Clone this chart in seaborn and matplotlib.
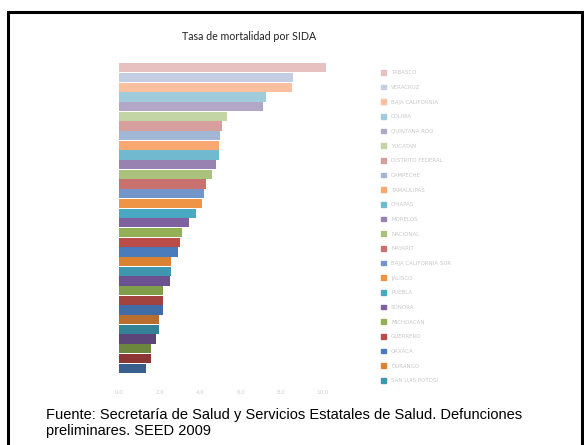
import matplotlib
matplotlib.use("Agg")
import matplotlib.pyplot as plt
import seaborn as sns
import pandas as pd
from matplotlib.lines import Line2D

estados = ["TABASCO", "VERACRUZ", "BAJA CALIFORNIA", "COLIMA", "QUINTANA ROO",
           "YUCATÁN", "DISTRITO FEDERAL", "CAMPECHE", "TAMAULIPAS", "CHIAPAS",
           "MORELOS", "NACIONAL", "NAYARIT", "BAJA CALIFORNIA SUR", "JALISCO",
           "PUEBLA", "SONORA", "MICHOACÁN", "GUERRERO", "OAXACA", "DURANGO",
           "SAN LUIS POTOSÍ", "CHIHUAHUA", "MÉXICO", "HIDALGO", "SINALOA",
           "COAHUILA", "QUERÉTARO", "TLAXCALA", "GUANAJUATO", "AGUASCALIENTES",
           "ZACATECAS"]
tasas = [10.2, 8.59, 8.54, 7.24, 7.09, 5.32, 5.06, 4.97, 4.94, 4.91,
         4.77, 4.56, 4.28, 4.19, 4.09, 3.81, 3.43, 3.08, 3.02, 2.92,
         2.58, 2.58, 2.53, 2.17, 2.17, 2.17, 1.97, 1.95, 1.80, 1.56,
         1.56, 1.31]
ticks_x = [0, 2, 4, 6, 8, 10]
tick_labels = ["0.0", "2.0", "4.0", "6.0", "8.0", "10.0"]
titulo = "Tasa de mortalidad por SIDA"
fuente = "Fuente: Secretaría de Salud y Servicios Estatales de Salud. Defunciones\npreliminares. SEED 2009"

colores = ["#E6C1C0", "#C3CEE3", "#F9BF9E", "#A0CBDB", "#B3A7C8", "#C3D5A4",
           "#D69F9E", "#A2B6D6", "#F8A870", "#70B9CF", "#9782B2", "#ABC27C",
           "#C9716F", "#7295CA", "#EF9345", "#4BA8C2", "#7E619E", "#93B055",
           "#BA4C49", "#4A7CBC", "#D98232", "#3E97AF", "#6C5190", "#809E4A",
           "#A3433F", "#3F6CA6", "#B96D2E", "#338197", "#5C4679", "#6C873D",
           "#8C3735", "#3A5F8E"]

df = pd.DataFrame({"estado": estados, "tasa": tasas})

sns.set_style("white")
plt.rcParams["font.family"] = ["DejaVu Sans"]

fig = plt.figure(figsize=(5.84, 4.45), dpi=100)
W, H = 584, 445
left, right, top, bottom = 119, 333, 63, 373
ax = fig.add_axes([left / W, 1 - bottom / H, (right - left) / W, (bottom - top) / H])

sns.barplot(data=df, x="tasa", y="estado", hue="estado", palette=colores,
            dodge=False, legend=False, ax=ax, width=0.96, edgecolor="none",
            saturation=1)

ax.set_xlim(0, (right - left) / 20.3)
ax.set_xticks(ticks_x)
ax.set_xticklabels(tick_labels, fontsize=4, color="#CCCCCC")
ax.set_yticks([])
ax.set_xlabel("")
ax.set_ylabel("")
ax.tick_params(axis="x", length=0, pad=12)
for s in ax.spines.values():
    s.set_visible(False)
ax.grid(False)

handles = [plt.Rectangle((0, 0), 1, 1, color=c) for c in colores[:22]]
fig.legend(handles, estados[:22], loc="upper left",
           bbox_to_anchor=(381 / W, 1 - 70 / H), frameon=False,
           fontsize=4, labelcolor="#C8C8C8", handlelength=0.9, handleheight=0.9,
           labelspacing=1.70, handletextpad=0.9, borderaxespad=0, borderpad=0)

fig.text(249 / W, 1 - 37 / H, titulo, ha="center", va="center",
         fontsize=7.7, family="Lato", color="#222222")
fig.text(46 / W, 1 - 423 / H, fuente, ha="left", va="center",
         fontsize=10.5, family="Liberation Sans", color="black", linespacing=1.25)

lw = 2.2
fig.add_artist(Line2D([8 / W, 582 / W], [1 - 12 / H, 1 - 12 / H], color="black", lw=lw,
                      transform=fig.transFigure, solid_capstyle="projecting"))
fig.add_artist(Line2D([8 / W, 8 / W], [1 - 12 / H, 0], color="black", lw=lw,
                      transform=fig.transFigure))
fig.add_artist(Line2D([582 / W, 582 / W], [1 - 12 / H, 0], color="black", lw=lw,
                      transform=fig.transFigure))

fig.savefig("out.png", dpi=100)
